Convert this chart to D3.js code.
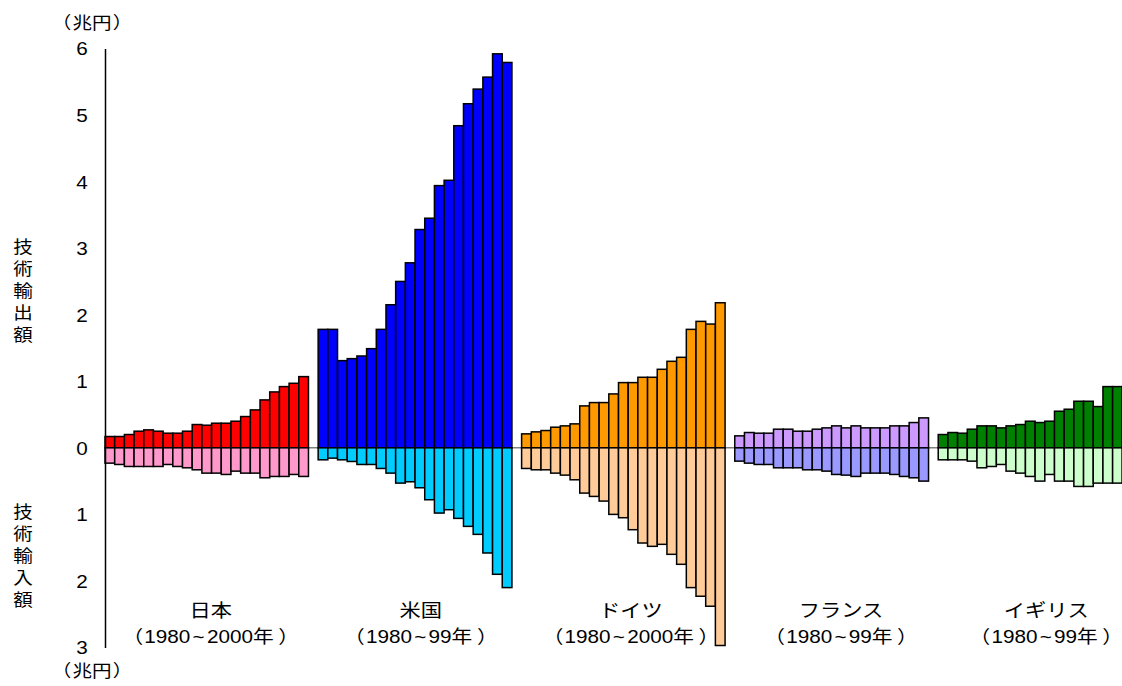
<!DOCTYPE html>
<html><head><meta charset="utf-8">
<script src="https://cdn.jsdelivr.net/npm/d3@7/dist/d3.min.js"></script>
<style>body{margin:0;background:#fff}</style>
</head><body>
<svg id="chart" width="1122" height="686"></svg>
<script>
// ---- data ----
const countries = ["日本", "米国", "ドイツ", "フランス", "イギリス"];
const periodStart = ["1980", "1980", "1980", "1980", "1980"];
const periodEnd = ["2000", "99", "2000", "99", "99"];
const jpExport = [0.17,0.17,0.20,0.25,0.27,0.25,0.22,0.22,0.25,0.35,0.34,0.37,0.37,0.40,0.47,0.57,0.72,0.84,0.92,0.97,1.07];
const jpImport = [0.23,0.25,0.28,0.28,0.28,0.28,0.25,0.28,0.30,0.33,0.38,0.38,0.40,0.35,0.38,0.38,0.45,0.43,0.43,0.40,0.43];
const usExport = [1.78,1.78,1.31,1.34,1.38,1.49,1.78,2.15,2.50,2.78,3.28,3.45,3.94,4.02,4.84,5.17,5.39,5.57,5.92,5.79];
const usImport = [0.18,0.155,0.18,0.205,0.25,0.25,0.31,0.38,0.53,0.51,0.60,0.78,0.98,0.93,1.06,1.18,1.30,1.58,1.90,2.10];
const deExport = [0.21,0.24,0.26,0.31,0.33,0.36,0.63,0.68,0.68,0.81,0.98,0.98,1.06,1.06,1.18,1.30,1.36,1.78,1.90,1.86,2.18];
const deImport = [0.31,0.33,0.33,0.38,0.41,0.48,0.68,0.73,0.80,1.00,1.05,1.23,1.43,1.48,1.45,1.60,1.75,2.10,2.23,2.38,2.97];
const frExport = [0.18,0.23,0.22,0.22,0.28,0.28,0.25,0.25,0.28,0.30,0.33,0.30,0.33,0.30,0.30,0.30,0.33,0.33,0.38,0.45];
const frImport = [0.20,0.23,0.25,0.25,0.30,0.30,0.30,0.33,0.33,0.35,0.40,0.41,0.43,0.38,0.38,0.38,0.40,0.43,0.45,0.50];
const ukExport = [0.20,0.23,0.22,0.28,0.33,0.33,0.30,0.33,0.35,0.40,0.38,0.40,0.55,0.58,0.70,0.70,0.62,0.92,0.92,0.92];
const ukImport = [0.18,0.18,0.18,0.20,0.30,0.28,0.25,0.35,0.38,0.43,0.50,0.40,0.50,0.50,0.58,0.58,0.53,0.53,0.53,0.53];
const exportSeries = [jpExport, usExport, deExport, frExport, ukExport];
const importSeries = [jpImport, usImport, deImport, frImport, ukImport];
const tickValues = [6,5,4,3,2,1,0,-1,-2,-3];
const unitText = "兆円";
const exportTitle = ["技","術","輸","出","額"];
const importTitle = ["技","術","輸","入","額"];

// ---- styles ----
const exportColors = ["#FF0000","#0000FF","#FF9900","#CC99FF","#008000"];
const importColors = ["#FF99CC","#00CCFF","#FFCC99","#9999FF","#CCFFCC"];
const FONT = "'Liberation Sans', Arial, 'Noto Sans CJK JP', sans-serif";
const SX = 1.15;

const svg = d3.select("#chart");

// band domain with one empty slot between groups
const keys = [];
exportSeries.forEach((s, g) => {
  s.forEach((_, i) => keys.push(g + "-" + i));
  if (g < exportSeries.length - 1) keys.push("gap" + g);
});
const x = d3.scaleBand().domain(keys).range([105, 1132]).padding(0);
const y = d3.scaleLinear().domain([-3, 6]).range([647.5, 48.5]);

// zero line
svg.append("line")
  .attr("x1", 105).attr("x2", 1122)
  .attr("y1", y(0)).attr("y2", y(0))
  .attr("stroke", "#808080").attr("stroke-width", 1.5);

const bars = [];
exportSeries.forEach((s, g) => s.forEach((v, i) => bars.push({key: g + "-" + i, v, g, kind: "ex"})));
importSeries.forEach((s, g) => s.forEach((v, i) => bars.push({key: g + "-" + i, v: -v, g, kind: "im"})));

svg.append("g").selectAll("rect").data(bars).join("rect")
  .attr("x", d => x(d.key))
  .attr("width", x.bandwidth())
  .attr("y", d => d.v >= 0 ? y(d.v) : y(0))
  .attr("height", d => Math.abs(y(d.v) - y(0)))
  .attr("fill", d => d.kind === "ex" ? exportColors[d.g] : importColors[d.g])
  .attr("stroke", "#000").attr("stroke-width", 1.5);

// y axis
const axis = d3.axisLeft(y).tickValues(tickValues).tickSize(0).tickPadding(0)
  .tickFormat(d => String(Math.abs(d)));
const ag = svg.append("g").attr("transform", "translate(105,0)").call(axis);
ag.select(".domain").attr("stroke", "#000").attr("stroke-width", 1.5);
ag.selectAll(".tick text").remove();
ag.selectAll(".tick").append("g")
  .attr("transform", "translate(-23,0) scale(" + SX + ",1)")
  .append("text")
  .attr("text-anchor", "middle").attr("dominant-baseline", "central")
  .attr("font-family", FONT).attr("font-size", 18).attr("fill", "#000")
  .text(d => String(Math.abs(d)));

function label(cx, cy, size) {
  return svg.append("g").attr("transform", `translate(${cx},${cy}) scale(${SX},1)`)
    .append("text").attr("text-anchor", "middle").attr("dominant-baseline", "central")
    .attr("font-family", FONT).attr("font-size", size).attr("fill", "#000");
}
function unitLabel(cx, cy) {
  const t = label(cx, cy, 17);
  t.append("tspan").text("（");
  t.append("tspan").attr("dx", 1).text(unitText);
  t.append("tspan").attr("dx", 1).text("）");
}
unitLabel(92, 23);
unitLabel(92, 671);
exportTitle.forEach((c, i) => label(23, 247 + i * 22, 17).text(c));
importTitle.forEach((c, i) => label(23, 512 + i * 22, 17).text(c));

countries.forEach((c, g) => {
  const first = x(g + "-0");
  const last = x(g + "-" + (exportSeries[g].length - 1)) + x.bandwidth();
  const cx = (first + last) / 2 + 4 + 1.8 * g;
  label(cx, 611, 18.5).text(c);
  const t = label(cx, 637, 18);
  t.append("tspan").text("（");
  t.append("tspan").attr("dx", 1).text(periodStart[g]);
  t.append("tspan").attr("dx", 2).text("~");
  t.append("tspan").attr("dx", 2).text(periodEnd[g]);
  t.append("tspan").text("年");
  t.append("tspan").attr("dx", 4).text("）");
});
</script>
</body></html>
